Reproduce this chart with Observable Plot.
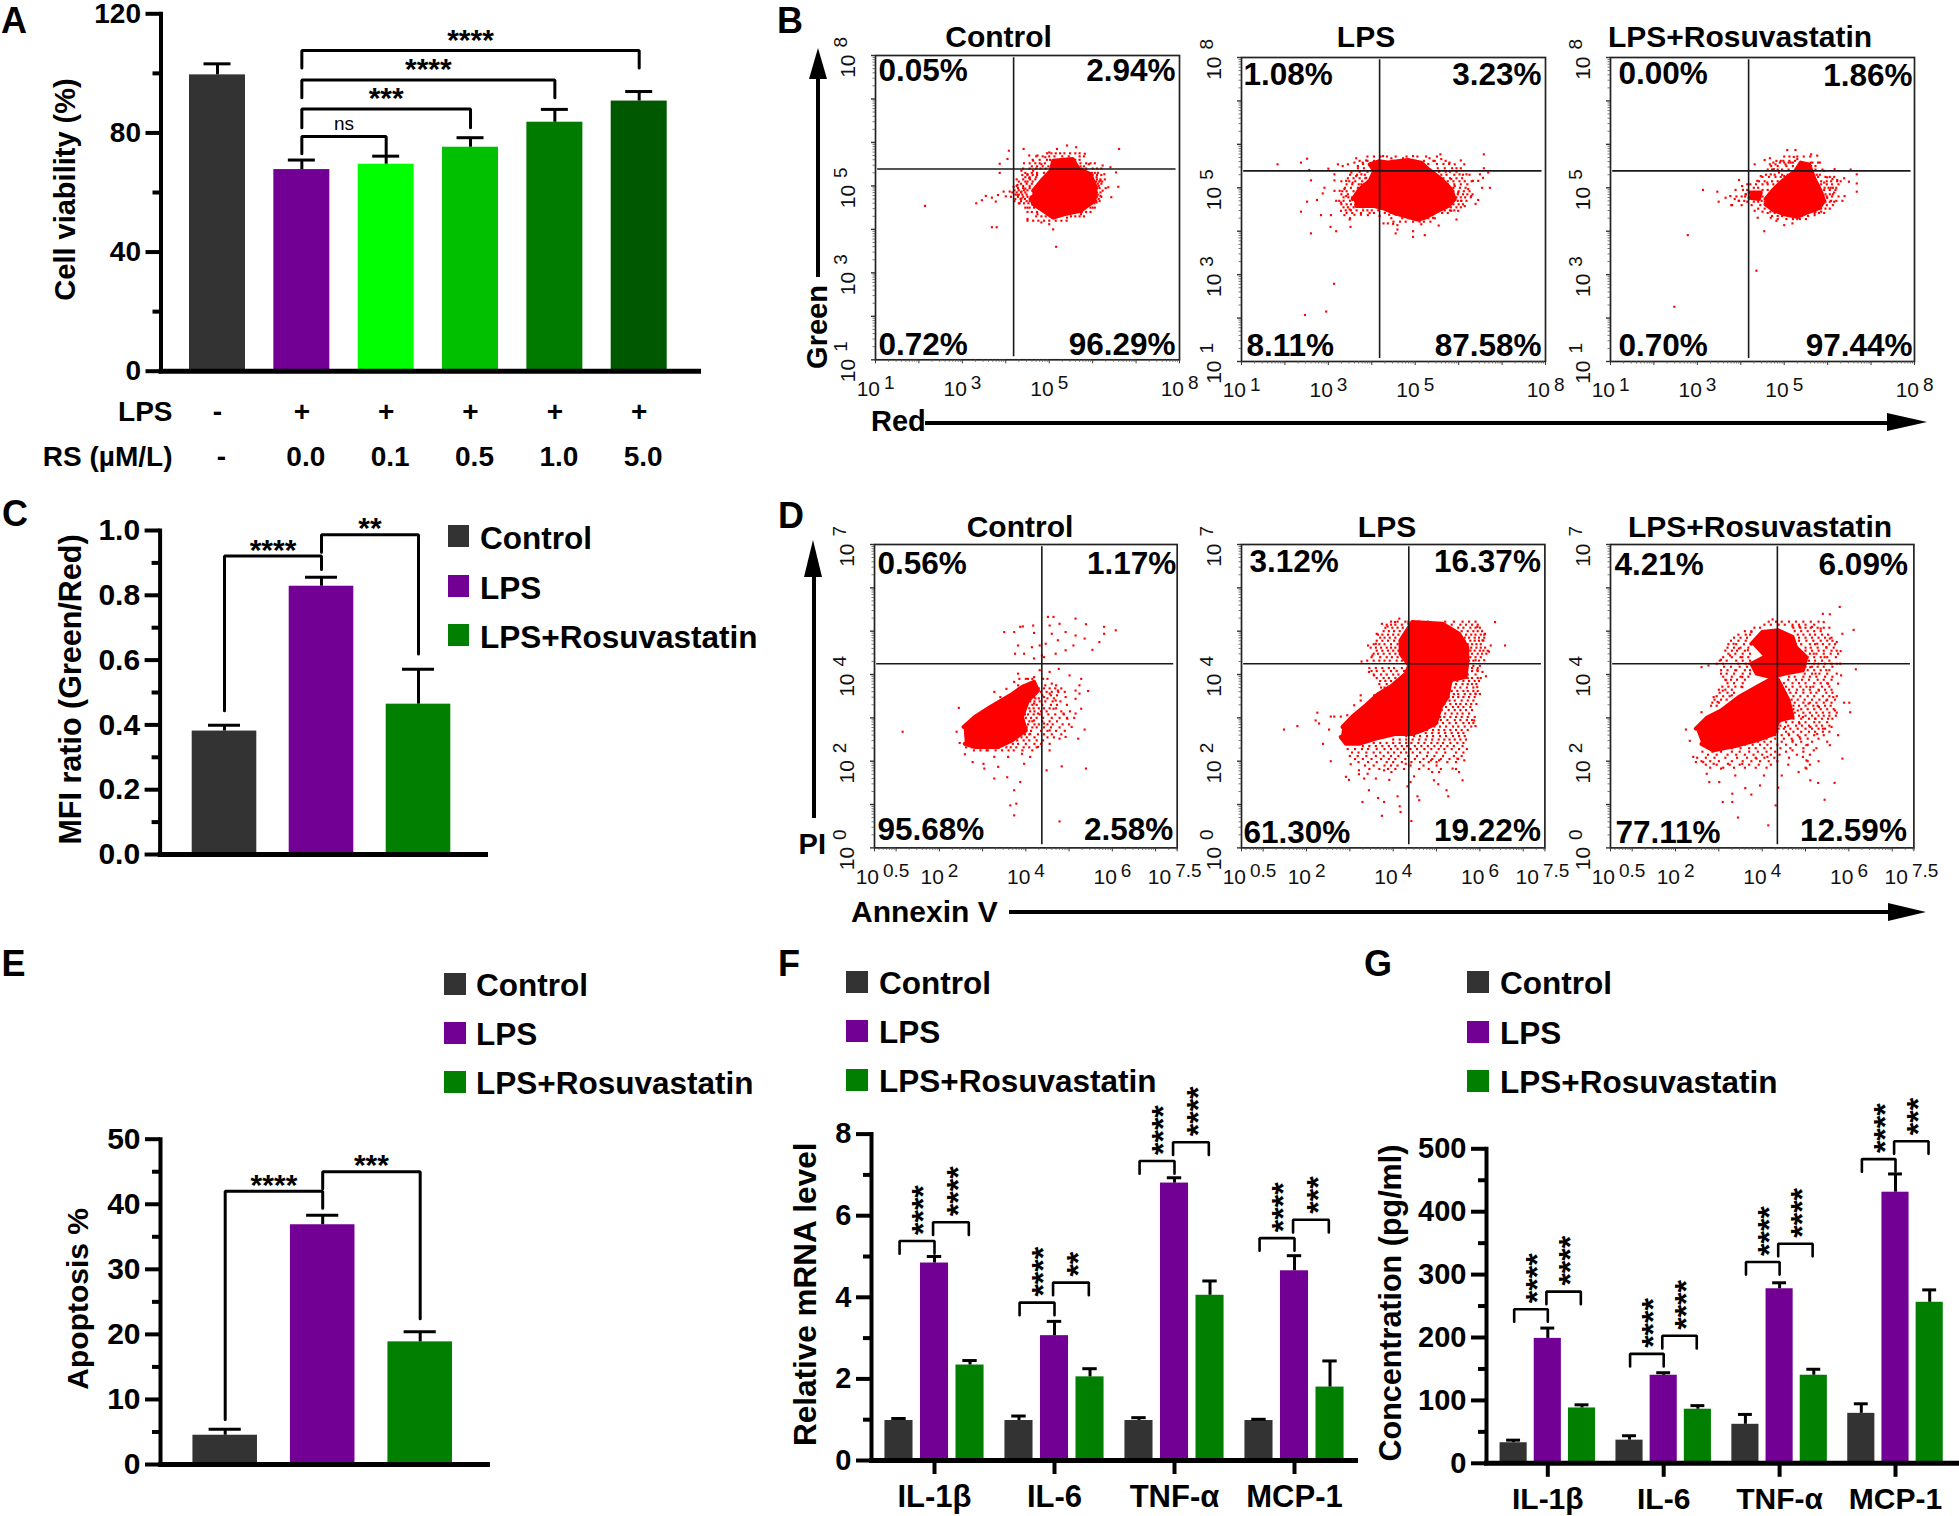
<!DOCTYPE html>
<html><head><meta charset="utf-8">
<script src="https://cdn.jsdelivr.net/npm/d3@7"></script>
<script src="https://cdn.jsdelivr.net/npm/@observablehq/plot@0.6"></script>
<style>
html,body{margin:0;padding:0;background:#fff}
#page{position:relative;width:1959px;height:1516px;overflow:hidden;background:#fff;color:#000;font-family:"Liberation Sans",Arial,sans-serif}
#page>div{position:absolute}
.t{font-weight:700;white-space:nowrap;line-height:1.15}
</style></head><body><div id="page"></div>
<script>
// ---------- bar chart data ----------
const groupColors=["#333333","#730094","#007F00"];
const legendLabels=["Control","LPS","LPS+Rosuvastatin"];
const viabilityValues=[99.5,67.7,69.5,75.2,83.6,90.7];
const viabilityErrTop=[103.2,70.9,72.2,78.4,87.9,93.9];
const viabilityColors=["#333333","#730094","#00FF00","#00C000","#007B00","#005800"];
const lpsRow=["-","+","+","+","+","+"];
const rsRow=["-","0.0","0.1","0.5","1.0","5.0"];
const viabilityBrackets=[[1,2,78.8,73,72.4],[1,3,88,81.7,81.7],[1,4,97.8,91.8,91.8],[1,5,107.7,101.8,101.8]];
const viabilityStars=[[1.5,78.8,"ns"],[2,88,"***"],[2.5,97.8,"****"],[3,107.7,"****"]];
const mfiValues=[0.381,0.828,0.464];
const mfiErrTop=[0.399,0.856,0.572];
const mfiBrackets=[[0,1,0.921,0.444,0.88],[1,2,0.987,0.933,0.619]];
const mfiStars=[[0.5,0.921,"****"],[1.5,0.987,"**"]];
const apoptosisValues=[4.5,36.85,18.85];
const apoptosisErrTop=[5.4,38.3,20.4];
const apoptosisBrackets=[[0,1,42,6.9,39.4],[1,2,45,42.4,22.4]];
const apoptosisStars=[[0.5,42,"****"],[1.5,45,"***"]];
const cytokines=["IL-1β","IL-6","TNF-α","MCP-1"];
const mrnaControl=[0.98,0.98,0.98,0.98];
const mrnaControlErr=[1.03,1.09,1.05,1.01];
const mrnaLps=[4.84,3.06,6.8,4.65];
const mrnaLpsErr=[5.0,3.41,6.93,5.02];
const mrnaRs=[2.34,2.05,4.05,1.8];
const mrnaRsErr=[2.45,2.25,4.4,2.44];
const mrnaLeftTop=[5.38,3.87,7.34,5.45];
const mrnaRightTop=[5.84,4.36,7.8,5.9];
const mrnaRightStars=["****","**","****","***"];
const concControl=[32.7,36.8,62,79.4];
const concControlErr=[36.8,43.8,77.7,94.6];
const concLps=[198.6,140,277.5,431];
const concLpsErr=[215,144,287,460];
const concRs=[88,86,140,256];
const concRsErr=[93,91.7,149.5,275.7];
const concLeftTop=[245,174,320,483.6];
const concRightTop=[273,202.7,349,512];
const concLeftStars=["****","****","****","****"];
const concRightStars=["****","****","****","***"];

// ---------- flow cytometry data: log10 fluorescence ----------
const bTicksX=[[1,"1"],[3,"3"],[5,"5"],[8,"8"]];
const bTicksY=[[1,"1"],[3,"3"],[5,"5"],[8,"8"]];
const dTicksX=[[0.5,"0.5"],[2,"2"],[4,"4"],[6,"6"],[7.5,"7.5"]];
const dTicksY=[[0,"0"],[2,"2"],[4,"4"],[7,"7"]];

const bControlCore=[[4.63,4.89],[4.82,5.12],[5.04,5.35],[5.09,5.58],[5.54,5.62],[5.68,5.39],[5.95,5.27],[6.07,4.97],[6.04,4.66],[5.73,4.43],[5.36,4.35],[5.09,4.27],[4.86,4.43],[4.63,4.58],[4.59,4.74]];
const bControlDots=[[2.14,4.54],[5.16,3.6],[6.61,5.85],[6.59,4.98],[6.43,4.74],[3.32,4.6],[3.45,4.67],[3.54,4.77],[3.68,4.73],[3.77,4.64],[3.82,4.79],[3.95,4.87],[4,4.76],[4.09,4.87],[4.18,4.98],[4.27,5.02],[4.36,4.71],[4.45,4.94],[3.86,5.3],[4.04,5.62],[4.41,5.85],[4.07,5.81],[3.86,5.51],[4.27,4.79],[4.36,4.87],[4.45,5.1],[4.54,5.18],[4.5,4.5],[4.32,4.6],[4.5,4.2],[3.79,4.05],[3.68,4.05],[4.54,5.7],[4.63,5.58],[4.73,5.7],[4.82,5.5],[4.91,5.66],[5,5.77],[5.18,5.85],[5.41,5.93],[5.62,5.89],[5.82,5.74],[5.91,5.5],[6.23,5.47],[6.41,5.43],[6.54,5.31],[6.18,5.12],[6.27,5.27],[6.09,5.2],[6.36,4.97],[6.23,4.89],[6.18,4.77],[6.09,4.62],[6,4.5],[5.73,4.35],[5.59,4.43],[5.41,4.27],[5.09,4],[5,4.12],[4.82,4.16],[4.5,4.24],[4.63,4.2],[4.73,4.35],[4.36,5.35],[4.5,5.27],[4.63,5.35]];
const bControlRows=[[5.6,4.62,4.78,4.95,5.02,5.6,5.7],[5.45,4.6,4.72,4.85,4.98,5.72,5.8],[5.3,4.45,4.6,4.72,4.88,5.98,6.05,6.12],[5.2,4.45,4.55,4.7],[5.1,4.3,4.5,4.62,6.08,6.15,6.22],[5,4.25,4.4,4.55,6.08,6.14],[4.9,4.2,4.3,4.42,4.5],[4.8,4.22,4.3,4.38,4.48,6.07,6.12],[4.7,4.22,4.34,4.44,4.55,6.06,6.14],[4.6,4.3,4.42,4.52,5.98,6.04],
[5.75,4.95,5.05,5.15,5.25,5.35,5.48,5.6,5.7],[5.68,4.7,4.85,5,5.12,5.3,5.45,5.7,5.8],[5.52,4.42,4.55,4.68,4.78,4.9,5.72,5.85,5.95,6.05],[5.4,4.4,4.55,4.7,4.8,4.92,5.75,5.85,6,6.1,6.2],[5.25,4.38,4.5,4.62,4.72,6,6.1,6.2],[5.15,4.25,4.4,4.56,4.68,6.1,6.18,6.28],[5.05,4.35,4.48,4.6,6.12,6.2],[4.95,4.28,4.4,4.55,6.1,6.16,6.3],[4.85,4.15,4.25,4.35,4.45,6.1,6.18],[4.75,4.12,4.28,4.4,4.5,6.1,6.2],[4.65,4.2,4.35,4.48,4.55,6.08,6.16],[4.5,4.45,4.55,4.65,5.95,6.05],[4.4,4.5,4.6,4.72,5.75,5.85,5.95],[4.3,4.7,4.82,4.92,5.5,5.6,5.7,5.8],[4.2,4.75,4.88,5,5.15,5.28,5.4]];

const bLpsCore=[[3.56,4.74],[3.72,4.97],[3.95,5.16],[4.06,5.39],[3.95,5.54],[4.16,5.61],[4.37,5.58],[4.83,5.64],[5.14,5.58],[5.3,5.43],[5.6,5.2],[5.83,4.97],[5.91,4.74],[5.76,4.58],[5.53,4.47],[5.22,4.31],[5.06,4.27],[4.76,4.35],[4.49,4.43],[4.26,4.53],[4.06,4.58],[3.64,4.58]];
const bLpsDots=[[3.13,2.79],[2.46,2.07],[2.95,2.15],[1.83,5.54],[2.37,5.58],[2.51,5.67],[2.56,5.41],[3,5.44],[2.6,5.17],[3.14,5.17],[2.91,5],[2.87,4.87],[2.74,4.72],[2.51,4.68],[2.37,4.45],[2.83,4.37],[3.06,4.37],[2.6,3.95],[3.05,4.1],[3.18,4],[3.51,4.1],[3.14,4.93],[3.26,4.93],[3.37,4.97],[3.18,4.7],[3.29,4.66],[3.41,4.81],[3.29,4.47],[3.49,4.5],[3.37,4.37],[3.49,4.27],[3.91,4.37],[4.18,4.35],[4.27,4.18],[4.37,4.18],[4.49,4.17],[4.59,4.14],[4.59,4.04],[4.55,3.95],[4.95,4],[4.95,3.87],[5.22,3.91],[5.54,4.13],[5.95,4.27],[5.14,4.16],[5.41,4.31],[4.99,4.27],[3.64,5.68],[3.87,5.63],[4.26,5.73],[4.45,5.68],[4.72,5.68],[4.95,5.73],[5.33,5.68],[5.58,5.77],[6.58,5.77],[6.05,5.63],[6.13,5.54],[6.58,5.45],[6.68,5.35],[6.72,5],[6.54,5],[6.45,4.72],[6.39,4.63],[6.29,4.81],[6.22,4.97],[6.33,5.16],[6.45,5.16],[6.49,5.31],[6.56,5.23],[5.99,4.47],[5.83,4.47],[6.14,4.58],[6.06,4.7],[5.99,4.89],[5.91,5.04],[5.83,5.2],[6.02,5.31],[6.18,5.31],[5.79,5.58],[5.91,5.54],[5.6,5.66],[5.45,5.62],[3.22,5.54],[3.33,5.5],[3.45,5.54],[3.6,5.58],[3.68,5.5],[3.79,5.58],[3.53,5.35],[3.64,5.27],[3.76,5.31],[3.87,5.23],[3.41,5.16],[3.56,5.12],[3.14,5.31],[3.76,5.08]];
const bLpsRows=[[5.62,3.72,3.9,4.05,4.5,4.6,5,5.2,5.42,5.7],[5.45,3.68,3.82,5.52,5.68,5.85,5.95,6.05],[5.3,3.5,3.66,3.84,5.6,5.72,5.9,6.1,6.25],[5.15,3.3,3.48,3.62,3.78,5.75,5.88,6.02,6.14,6.3],[5,3.38,3.52,3.68,5.88,6.03,6.16],[4.85,3.3,3.45,5.98,6.1,6.2,6.32],[4.7,3.25,3.35,3.5,5.98,6.06,6.18],[4.55,3.35,3.45,3.58,3.8,5.82,5.95,6.05],[4.42,3.42,3.55,3.75,3.95,4.05,4.3,4.45,4.62,5.62,5.75],[4.3,3.5,4.45,4.7,4.85,5.05,5.3,5.45],
[5.72,3.9,4.05,4.2,4.35,4.55,4.8,5.05,5.25,5.5],[5.55,3.8,5.2,5.3,5.5,5.65,5.78],[5.37,3.72,3.9,5.42,5.55,5.7,5.8,5.95],[5.22,3.45,3.58,3.72,3.85,5.65,5.8,5.95,6.08],[5.08,3.42,3.55,3.7,3.82,5.75,5.9,6.05,6.2],[4.92,3.32,3.42,3.58,3.68,5.88,6,6.12,6.25],[4.78,3.35,3.46,3.55,5.95,6.05,6.15,6.28],[4.62,3.3,3.42,3.52,3.62,3.75,5.88,6,6.1],[4.48,3.4,3.52,3.65,3.8,3.9,4,4.15,4.35,5.55,5.68,5.8,5.9],[4.38,3.6,3.75,4.4,4.55,4.75,4.92,5.1,5.25,5.4],[4.22,4.5,4.65,4.78,4.95,5.1,5.2,5.35]];

const bRsCore=[[4.57,4.74],[4.76,4.97],[4.96,5.16],[5.26,5.39],[5.38,5.58],[5.57,5.54],[5.7,5.2],[5.84,4.93],[5.92,4.7],[5.8,4.53],[5.53,4.43],[5.3,4.33],[5,4.39],[4.76,4.48],[4.57,4.62]];
const bRsCore2=[[4.2,4.89],[4.46,4.89],[4.42,4.74],[4.2,4.77]];
const bRsDots=[[2.47,2.26],[4.36,3.09],[2.78,3.91],[3.13,4.95],[3.46,4.91],[3.49,4.68],[3.65,4.77],[3.76,4.81],[3.78,4.6],[3.86,4.74],[3.96,4.7],[3.88,4.95],[3.96,5.18],[4.03,5.04],[4.11,4.85],[4.15,5.08],[4.22,5.08],[4.32,5.54],[4.55,5.64],[4.67,5.68],[4.67,5.54],[4.8,5.54],[5.07,5.87],[5.26,5.87],[5.22,5.71],[5.3,5.66],[5.62,5.77],[5.76,5.74],[5.82,5.58],[5.61,5.58],[5.92,5.39],[6.16,5.43],[6.53,5.42],[6.67,5.31],[6.67,5.1],[6.67,4.91],[6.38,5.22],[6.49,5.14],[6.39,4.81],[6.34,4.7],[6.22,5.18],[6.11,5.2],[5.99,5.24],[5.92,5.12],[6.07,5],[6.15,4.89],[5.99,4.77],[5.92,4.66],[5.7,4.37],[5.36,4.28],[5.22,4.35],[5.19,4.18],[5,4.14],[4.82,4.24],[4.69,4.31],[4.39,4.31],[4.32,4.47],[4.54,4],[4.38,5.16],[4.46,5.27],[4.61,5.12],[4.69,5.31],[4.88,5.35],[5,5.27],[4.92,5.62],[5.03,5.54],[5.15,5.58],[4.76,5.43]];
const bRsRows=[[5.62,4.82,4.98,5.12,5.25],[5.5,4.7,4.85,5.05,5.2,5.62,5.72],[5.3,4.58,4.78,4.95,5.08,5.75,5.82],[5.15,4.42,4.55,4.72,4.85,5.72,5.85,5.98,6.08,6.22,6.3],[5,4.3,4.4,5.93,6.02,6.12,6.2],[4.85,4.12,5.95,6.05,6.12],[4.7,3.95,4.08,4.48,5.93,6.08,6.2],[4.6,3.8,4.02,4.25,4.45,5.85,5.98,6.12],[4.45,4.5,4.68,5.72,5.85],[4.35,4.72,4.85,4.95,5.4,5.55],
[5.72,5,5.12,5.3,5.45,5.6],[5.58,4.75,4.9,5,5.1,5.2,5.65,5.78],[5.42,4.62,4.72,4.85,4.95,5.1,5.62,5.72,5.88],[5.25,4.5,4.65,4.8,4.92,5.65,5.78,5.95,6.05,6.15],[5.08,4.35,4.5,4.62,4.75,5.85,5.98,6.1,6.25],[4.95,4.05,4.15,4.5,4.62,5.92,6.05,6.18],[4.8,3.9,4.02,4.1,4.5,5.98,6.1,6.25],[4.68,4.15,4.3,4.4,4.55,5.95,6.05,6.15],[4.52,4.4,4.55,5.85,5.95,6.05],[4.42,4.62,4.78,5.7,5.8,5.92],[4.28,4.85,5.05,5.2,5.3,5.5]];

const dControlCore=[[2.56,2.79],[2.82,3.02],[3.18,3.25],[3.64,3.52],[3.91,3.71],[4.19,3.83],[4.28,3.63],[4.05,3.4],[3.91,3.02],[4,2.71],[3.68,2.48],[3.36,2.33],[2.82,2.33],[2.59,2.4]];
const dControlDots=[[1.15,2.68],[2.4,2.68],[2.45,3.23],[2.47,2.42],[2.59,2.16],[2.77,1.98],[3.02,1.94],[3.04,1.83],[3.27,1.6],[3.36,1.87],[3.57,1.63],[3.73,1.33],[3.87,1.52],[3.64,0.98],[3.78,1.02],[3.73,0.75],[4.78,0.61],[4.48,1.79],[4.83,1.88],[5.39,1.83],[3.96,1.94],[4.1,2.1],[3.91,2.17],[3.59,2.1],[3.27,2.1],[3.09,2.25],[4.55,2.25],[4.78,2.52],[4.92,2.56],[5.21,2.52],[5.36,2.73],[5.06,2.79],[4.96,2.98],[5.15,3.1],[5.28,3.21],[4.87,3.1],[4.64,3.21],[4.55,2.71],[4.42,2.87],[4.28,3.1],[4.19,2.94],[4.1,2.63],[3.82,2.63],[4.28,2.33],[4.69,3.4],[4.92,3.48],[5.15,3.44],[5.24,3.56],[5.44,3.62],[5.24,3.75],[5.28,3.9],[5.01,3.98],[5.15,3.63],[4.74,3.63],[4.55,3.56],[4.42,3.48],[4.19,3.33],[4.19,3.48],[4.6,3.79],[4.55,4.06],[4.76,4.13],[4.32,4.1],[4.19,3.94],[4,3.9],[3.82,4.02],[3.73,3.83],[3.55,3.67],[3.27,3.6],[3.41,3.48],[3.5,4.98],[3.73,4.98],[3.87,5.1],[3.93,5.11],[4.17,5.13],[4.19,4.96],[3.82,4.67],[4.14,4.63],[4.32,4.67],[3.75,4.48],[3.96,4.48],[4.19,4.37],[4.37,4.44],[4.46,4.71],[4.51,5.33],[4.64,5.33],[4.55,5.13],[4.78,5.17],[4.6,4.94],[4.92,4.98],[4.74,4.79],[5.1,4.67],[5.15,4.9],[5.15,5.29],[5.39,5.16],[5.36,4.83],[5.54,4.57],[5.7,4.75],[5.81,5.1],[5.81,4.94],[6.08,5.02],[4.92,4.56],[4.69,4.48],[4.42,4.4]];
const dControlRows=[[3.75,3.82,3.95,4.1,4.45,4.7],[3.6,3.95,4.08,4.22,4.35,4.48,4.6,4.75,4.9],[3.45,4.05,4.22,4.3,4.5,4.65],[3.3,4.02,4.15,4.25,4.38,4.58,4.72,4.95],[3.15,3.98,4.1,4.2,4.35,4.48,4.82,5.02],[3,4,4.12,4.25,4.4,4.6,4.78,4.95,5.12],[2.85,4.05,4.2,4.3,4.5,4.62,4.85,5],[2.7,3.98,4.12,4.35,4.5,4.7,4.9],[2.55,3.75,3.9,4.02,4.2,4.5,4.65],[2.4,3.52,3.7,3.82,4,4.2,4.35,4.55],[2.25,2.8,2.95,3.12,3.3,3.45,3.6,3.72,3.92,4.15],
[3.9,3.85,4.05,4.15,4.4,4.5],[3.68,3.85,4.02,4.15,4.3,4.42,4.55,4.68,4.82],[3.52,3.95,4.15,4.38,4.58,4.72],[3.38,4.1,4.2,4.32,4.45,4.62,4.8],[3.22,4.08,4.18,4.3,4.42,4.55,4.7],[3.08,3.98,4.05,4.18,4.32,4.52,4.68,4.88],[2.92,3.95,4.08,4.15,4.38,4.55,4.72],[2.78,3.9,4.02,4.15,4.25,4.42,4.58,4.78],[2.62,3.85,3.98,4.08,4.28,4.42,4.6,4.82],[2.48,3.68,3.8,3.95,4.08,4.25,4.4],[2.32,2.62,2.75,2.9,3.05,3.2,3.38,3.55,3.65,3.78,3.95,4.08,4.25]];

const dLpsCore=[[2.83,2.79],[3.06,3.03],[3.37,3.29],[3.67,3.56],[3.98,3.75],[4.29,4.02],[4.37,4.21],[4.17,4.48],[4.17,4.79],[4.44,5.21],[5.14,5.17],[5.52,4.94],[5.71,4.63],[5.71,4.29],[5.67,3.94],[5.33,3.87],[5.25,3.48],[5.1,3.25],[4.98,2.87],[4.67,2.71],[4.44,2.63],[4.06,2.63],[3.6,2.52],[3.21,2.4],[2.91,2.4],[2.79,2.56]];
const dLpsDots=[[1.48,2.73],[1.79,2.81],[2.25,3.12],[2.21,2.94],[2.29,2.87],[2.38,2.4],[2.52,2.73],[2.56,3.03],[2.64,3.03],[2.79,3.03],[2.56,2],[2.94,3.06],[3.1,3.29],[3.25,3.52],[3.25,3.4],[3.56,3.52],[2.91,1.64],[2.98,1.57],[3.27,4.3],[3.42,4.67],[3.52,4.44],[3.6,4.71],[3.62,4.94],[3.74,5.17],[3.87,5.11],[4.04,5.21],[4.14,5.29],[4.35,5.17],[3.44,4.06],[3.56,3.98],[6.35,5.21],[6.58,4.67],[6.25,4.67],[6.21,4.53],[6.12,4.94],[5.94,5.1],[6.06,4.79],[6.1,4.33],[5.9,4.33],[5.94,4.1],[6.06,4.06],[6.14,3.96],[5.94,3.71],[5.9,3.56],[5.87,2.94],[5.9,2.81],[3.02,1.93],[3.21,1.79],[3.21,1.7],[3.41,1.71],[3.33,1.6],[3.6,1.6],[3.79,1.79],[3.96,1.75],[3.91,1.57],[4.29,1.94],[4.48,1.65],[4.4,1.52],[4.33,1.42],[4.87,2.02],[5.06,2.02],[4.9,1.75],[5.06,1.75],[5.37,1.83],[5.52,1.75],[5.48,2.06],[5.64,2.02],[5.6,1.56],[4.94,1.56],[5.04,1.47],[5.23,1.33],[5.27,1.19],[3.44,1.33],[4.1,1.19],[3.65,1.15],[3.79,1.06],[3.29,1.06],[4.15,0.96],[4.17,0.83],[3.74,0.74],[4.56,1.19],[4.6,1.1],[4.42,0.62],[5.17,0.62]];
const dLpsRows=[[5.15,3.85,3.95,4.05,4.2],[5,3.78,3.9,4.02,4.15,4.3],[4.85,3.7,3.8,3.92,4.05,4.2],[4.7,3.55,3.68,3.8,3.95,4.1],[4.55,3.62,3.75,3.88,4,4.12],[4.4,3.5,3.7,3.85,3.97,4.1,4.22],[4.15,3.45,3.6,3.75,3.9,4.02,4.2],[4,3.55,3.72,3.85,4,4.12],[3.85,3.7,3.82,3.95],[3.7,3.72,3.8],[5.15,5.2,5.35,5.55,5.68,5.82,5.95],[5,5.58,5.72,5.85,5.95,6.05],[4.85,5.65,5.75,5.88,5.98,6.1],[4.7,5.72,5.82,5.92,6.02],[4.55,5.78,5.88,6,6.08,6.18],[4.4,5.78,5.9,6.02],[4.15,5.25,5.38,5.55,5.68,5.82,5.95],[4,5.2,5.4,5.58,5.72,5.9],[3.85,5.35,5.48,5.62,5.75,5.88,5.98],[3.7,5.3,5.42,5.55,5.7,5.85],[3.55,5.28,5.4,5.5,5.65,5.78,5.9,6],[3.4,5.15,5.3,5.42,5.58,5.72,5.85],[3.25,5.1,5.22,5.38,5.5,5.62,5.78],[3.1,5.05,5.2,5.35,5.48,5.6,5.75],[2.95,5,5.1,5.25,5.42,5.55,5.7,5.82],[2.8,4.95,5.08,5.22,5.38,5.5,5.65,5.8],[2.65,4.75,4.9,5.05,5.2,5.35,5.5,5.62],[2.5,4,4.15,4.3,4.45,4.6,4.75,4.9,5.05,5.18,5.3,5.42,5.55,5.68],[2.35,3.3,3.45,3.6,3.75,3.9,4.05,4.2,4.32,4.5,4.65,4.8,4.95,5.1,5.25,5.4,5.6],[2.2,3.05,3.2,3.38,3.55,3.7,3.88,4.02,4.18,4.3,4.45,4.62,4.8,5,5.2,5.45,5.62],[2.05,3.12,3.3,3.5,3.72,3.9,4.05,4.28,4.5,4.7,4.9,5.1,5.3,5.5],[1.9,3.35,3.55,3.8,3.95,4.1,4.4,4.7,5],
[5.22,3.95,4.1,4.28,4.35],[5.08,3.82,3.98,4.1,4.22,4.35],[4.92,3.65,3.75,3.88,4,4.12,4.25],[4.78,3.62,3.75,3.88,4.02,4.15],[4.62,3.48,3.6,3.72,3.85,3.95,4.05],[4.48,3.55,3.65,3.78,3.92,4.05],[4.32,3.4,3.55,3.68,3.8,3.92,4.08,4.2],[4.08,3.5,3.62,3.78,3.95,4.08,4.25],[3.92,3.62,3.78,3.9,4.05],[3.78,3.68,3.85],
[5.22,4.6,4.8,5.2,5.4,5.6,5.75,5.9],[5.08,5.5,5.62,5.78,5.9,6],[4.92,5.55,5.68,5.8,5.9,6.02,6.1],[4.78,5.65,5.78,5.88,5.98,6.08],[4.62,5.72,5.8,5.92,6.02,6.12],[4.48,5.72,5.82,5.95,6.05,6.15],[4.32,5.75,5.85,5.98],
[4.2,5.72,5.85,6],[4.08,5.7,5.82,5.95],[3.92,5.72,5.82,5.95,6.02],[3.78,5.32,5.45,5.6,5.72,5.82,5.92],[3.62,5.25,5.35,5.48,5.62,5.72,5.85,5.95],[3.48,5.28,5.38,5.5,5.62,5.75,5.88],[3.32,5.18,5.32,5.45,5.55,5.68,5.8,5.92],[3.18,5.12,5.28,5.42,5.55,5.68,5.82],[3.02,5.08,5.18,5.32,5.45,5.58,5.72,5.88],[2.88,5.02,5.15,5.3,5.45,5.62,5.75,5.85],[2.72,4.78,4.92,5.05,5.18,5.32,5.45,5.58,5.72],[2.58,4.3,4.48,4.62,4.78,4.92,5.08,5.22,5.38,5.52,5.65],
[2.42,3.55,3.7,3.85,4,4.15,4.3,4.42,4.58,4.72,4.88,5.02,5.15,5.32,5.48,5.62],[2.28,2.95,3.12,3.28,3.42,3.62,3.8,3.95,4.1,4.25,4.4,4.55,4.72,4.88,5.05,5.18,5.35,5.52,5.7],[2.12,3,3.18,3.38,3.6,3.78,3.95,4.12,4.35,4.55,4.78,4.95,5.15,5.4,5.58],[1.98,3.2,3.42,3.62,3.85,4,4.2,4.42,4.62,4.82,5,5.25,5.45],[1.82,3.45,3.68,3.88,4.05,4.25,4.6,4.82,5.1,5.45]];

const dRsCore=[[2.47,2.75],[2.72,3],[3.05,3.17],[3.46,3.48],[3.87,3.71],[4.28,3.94],[4.37,3.87],[4.61,3.4],[4.7,3.02],[4.37,2.94],[4.28,2.63],[3.87,2.48],[3.46,2.37],[2.88,2.25],[2.6,2.4]];
const dRsCore2=[[3.75,4.71],[4,4.98],[4.37,5.02],[4.7,4.87],[4.78,4.63],[5.02,4.4],[4.94,4.1],[4.53,4.02],[4.2,3.94],[3.87,4.02],[3.75,4.25],[4.04,4.4]];
const dRsDots=[[2.24,2.73],[2.33,2.47],[2.41,2.1],[2.47,1.98],[2.64,1.98],[2.72,1.71],[2.78,1.52],[3.01,1.52],[3.09,1.06],[3.31,1.06],[3.31,1.25],[3.44,0.7],[3.61,1.38],[3.75,1.23],[3.95,1.44],[4.14,0.52],[4.31,0.98],[4.37,1.39],[4.45,1.67],[4.84,1.75],[5.11,1.56],[5.29,1.5],[5.44,1.11],[5.67,1.5],[5.85,2.06],[5.56,2.37],[5.75,2.6],[5.6,2.79],[5.02,1.83],[4.94,2.1],[4.7,2.25],[4.12,2.1],[3.87,2.06],[3.54,1.94],[3.21,1.94],[3.05,1.83],[2.88,1.94],[3.38,1.67],[4.04,1.67],[2.6,4.17],[2.76,4.21],[3.05,4.34],[3.26,4.44],[3.34,4.71],[3.75,4.98],[4.24,5.27],[3.05,4.02],[3.17,3.87],[3.09,3.63],[3.38,4.1],[3.54,3.94],[2.88,3.48],[2.97,3.37],[2.6,3.13],[3.3,3.52],[3.54,3.71],[3.67,4.56],[3.46,4.6],[3.54,4.4],[3.87,4.17],[4.7,5.11],[4.86,5.1],[5.15,5.1],[5.4,5.4],[5.56,5.39],[5.42,5.21],[5.35,5.06],[5.79,5.56],[6.11,5.03],[5.85,4.94],[5.56,4.83],[5.72,4.75],[5.81,4.54],[5.48,4.63],[5.27,4.71],[5.19,4.48],[5.44,4.4],[5.72,4.25],[6.16,4.12],[5.82,3.98],[5.48,4.1],[5.23,4.02],[5.11,4.17],[5.75,3.79],[5.52,3.79],[5.31,3.63],[5.11,3.71],[5.64,3.48],[5.48,3.4],[5.68,3.17],[5.31,3.25],[5.07,3.33],[5.89,3.35],[6.01,3.35],[6.03,3.13],[4.82,3.17],[4.94,3.02],[5.23,2.98],[5.4,2.75],[5.11,2.79],[4.86,2.87],[5.27,2.63],[4.86,2.56],[5.02,2.37],[4.61,2.63],[4.53,2.79],[4.7,2.48],[5.19,2.25],[5.02,2.02]];
const dRsRows=[[5.15,4.05,4.2,4.38,4.52,4.7,4.85,5,5.2],[5,3.6,3.75,4.75,4.9,5.05,5.2,5.35],[4.85,3.35,3.5,3.65,4.85,5,5.15,5.3,5.45,5.6],[4.7,3.22,3.4,3.58,4.9,5.1,5.22,5.4,5.55,5.68],[4.55,3.15,3.3,3.42,3.6,5,5.15,5.3,5.42,5.6,5.72],[4.4,3.1,3.3,3.5,3.68,5.05,5.2,5.35,5.5,5.7],[4.25,2.95,3.1,3.45,3.62,3.7,5,5.2,5.3,5.45,5.6,5.8],[4.1,3.05,3.2,3.4,3.6,3.72,4.9,5.05,5.2,5.35,5.55],[3.95,3.1,3.3,3.5,3.68,4.62,4.75,4.95,5.1,5.25,5.45,5.62],[3.8,3.2,3.35,3.55,4.5,4.7,4.85,5,5.2,5.35,5.5],[3.65,3,3.15,3.3,4.62,4.8,4.95,5.1,5.3,5.45,5.6],[3.5,2.95,3.1,3.25,4.72,4.88,5.05,5.2,5.4,5.55,5.72],[3.35,2.85,3,4.75,4.95,5.1,5.25,5.42,5.6],[3.2,4.72,4.9,5.05,5.2,5.35,5.5,5.65],[3.05,4.7,4.85,5,5.15,5.3,5.42,5.55,5.7],[2.9,4.4,4.55,4.7,4.85,5,5.2,5.32,5.5],[2.75,4.38,4.5,4.65,4.82,5,5.15,5.3,5.45],[2.6,4.3,4.45,4.62,4.82,5,5.2,5.42],[2.45,3.9,4.05,4.2,4.45,4.7,4.9,5.15,5.5],[2.3,3.3,3.5,3.7,3.85,4.05,4.2,4.42,4.65,4.95,5.25],[2.15,2.75,2.95,3.2,3.4,3.6,3.8,4,4.2,4.4,4.8,5.1],[2,2.6,2.8,3,3.3,3.55,3.75,3.95,4.15,4.35,5.05,5.3],[1.85,2.8,3.1,3.35,3.6,3.85,4.1,5],
[5.22,4.15,4.32,4.45,4.62,4.78,4.95,5.12,5.3],[5.08,3.82,3.95,4.72,4.88,5,5.12,5.28,5.42,5.55],[4.92,3.45,3.62,3.72,4.82,4.95,5.1,5.22,5.38,5.52],[4.78,3.28,3.45,3.62,4.85,5.02,5.18,5.35,5.5,5.62],[4.62,3.2,3.35,3.5,3.68,5,5.12,5.28,5.48,5.65],[4.48,3.22,3.38,3.55,3.72,5.1,5.25,5.42,5.58,5.75],[4.32,3.02,3.18,3.4,3.55,3.72,5.08,5.22,5.38,5.55],[4.18,3.12,3.28,3.48,3.65,5,5.15,5.28,5.42,5.62],[4.02,3.18,3.35,3.55,3.72,4.98,5.15,5.32,5.5,5.72],[3.88,3.15,3.28,3.42,3.6,4.6,4.78,4.92,5.08,5.28,5.42,5.6],[3.72,3.08,3.22,3.38,3.52,4.55,4.7,4.88,5.02,5.18,5.38,5.55],[3.58,3.02,3.2,3.35,4.65,4.78,4.95,5.12,5.25,5.48,5.62],[3.42,2.9,3.05,3.18,4.68,4.82,4.98,5.15,5.32,5.5,5.68],[3.28,2.82,2.95,4.72,4.85,5,5.18,5.28,5.45,5.58],[3.12,4.75,4.95,5.1,5.25,5.4,5.55,5.72],[2.98,4.72,4.9,5.08,5.22,5.38,5.52,5.62],[2.82,4.42,4.6,4.78,4.92,5.08,5.25,5.38,5.55],[2.68,4.35,4.55,4.72,4.9,5.08,5.22,5.4,5.55],[2.52,4.1,4.3,4.5,4.68,4.88,5.05,5.3],[2.38,3.6,3.78,3.95,4.12,4.35,4.55,4.78,5.05],[2.22,2.62,2.85,3.05,3.3,3.48,3.7,3.9,4.1,4.3,4.55,4.95],[2.08,2.5,2.7,2.9,3.15,3.42,3.65,3.85,4.05,4.28,4.62],[1.92,2.7,2.95,3.25,3.48,3.7,3.92,4.2,4.6,5.1]];

// ---------- page helpers ----------
const page=document.getElementById("page");
function put(node,left,top,width,height){
  const d=document.createElement("div");
  d.style.cssText=`left:${left}px;top:${top}px;width:${width}px;height:${height}px`;
  d.append(node);page.append(d);return d;
}
function label(s,x,cy,size,opts={}){
  const d=document.createElement("div");
  d.className="t";d.textContent=s;
  const tx=opts.anchor==="middle"?"-50%":"0";
  const rot=opts.rotate?` rotate(${opts.rotate}deg)`:"";
  d.style.cssText=`left:${x}px;top:${cy}px;font-size:${size}px;transform:translate(${tx},-50%)${rot}`;
  page.append(d);
}
function legend(swX,swW,textX,centers,size,shift){
  legendLabels.forEach((s,i)=>{
    const sw=document.createElement("div");
    sw.style.cssText=`left:${swX}px;top:${centers[i]-11}px;width:${swW}px;height:22px;background:${groupColors[i]}`;
    page.append(sw);
    label(s,textX,centers[i]+shift,size);
  });
}
function arrowUp(x,tip,base,end){
  const h=document.createElement("div");
  h.style.cssText=`left:${x-9.5}px;top:${tip}px;width:0;height:0;border-left:9.5px solid transparent;border-right:9.5px solid transparent;border-bottom:${base-tip}px solid #000`;
  const s=document.createElement("div");
  s.style.cssText=`left:${x-2}px;top:${base}px;width:4px;height:${end-base}px;background:#000`;
  page.append(h,s);
}
function arrowRight(y,start,base,tip){
  const s=document.createElement("div");
  s.style.cssText=`left:${start}px;top:${y-2}px;width:${base-start}px;height:4px;background:#000`;
  const h=document.createElement("div");
  h.style.cssText=`left:${base}px;top:${y-9.5}px;width:0;height:0;border-top:9.5px solid transparent;border-bottom:9.5px solid transparent;border-left:${tip-base}px solid #000`;
  page.append(s,h);
}
const plotStyle={background:"transparent",fontFamily:'"Liberation Sans",Arial,sans-serif',color:"#000",overflow:"visible"};

// ---------- bar panels ----------
function barPanel(p){
  const {left,top,width,height}=p.box;
  const bracketPts=p.brackets.flatMap((b,i)=>[
    {id:i,x:b[0],y:b[3]},{id:i,x:b[0],y:b[2]},{id:i,x:b[1],y:b[2]},{id:i,x:b[1],y:b[4]}]);
  const w=p.tickW||4;
  const marks=[
    Plot.rectY(p.rows,{x1:d=>d.x-p.half,x2:d=>d.x+p.half,y1:0,y2:"v",fill:"fill"}),
    Plot.ruleX(p.rows,{x:"x",y1:"v",y2:"top",stroke:"#000",strokeWidth:3}),
    Plot.ruleY(p.rows,{y:"top",x1:d=>d.x-p.cap,x2:d=>d.x+p.cap,stroke:"#000",strokeWidth:3}),
    Plot.line(bracketPts,{x:"x",y:"y",z:"id",stroke:"#000",strokeWidth:p.bracketW||3,strokeLinejoin:"miter"}),
    Plot.axisY({ticks:p.ticks,tickSize:15,strokeWidth:w,tickPadding:5,fontSize:p.tickFont,fontWeight:"bold",tickFormat:p.fmt,label:null,stroke:"#000",fill:"#000"}),
    Plot.axisY({ticks:p.minor,tickSize:8,strokeWidth:w,tickFormat:()=>"",label:null,stroke:"#000"}),
    Plot.frame({anchor:"left",stroke:"#000",strokeWidth:w}),
    Plot.frame({anchor:"bottom",stroke:"#000",strokeWidth:5}),
    Plot.text([p.label],{text:d=>d,frameAnchor:"left",textAnchor:"middle",lineAnchor:"middle",dx:p.labelX-p.axisX,dy:-3,rotate:-90,fontSize:p.labelFont,fontWeight:"bold",fill:"#000"}),
    ...(p.extra||[])
  ];
  const svg=Plot.plot({
    width,height,
    marginLeft:p.axisX-left,marginRight:left+width-p.axisEnd,
    marginTop:p.yTop-top,marginBottom:top+height-p.y0,
    style:plotStyle,
    x:{type:"linear",domain:[0,p.last],range:[p.c0-left,p.cLast-left],axis:null},
    y:{domain:p.yDomain,axis:null},
    color:{type:"identity"},
    marks
  });
  put(svg,left,top,width,height);
}
function simpleRows(values,tops,colors){
  return values.map((v,i)=>({x:i,v,top:tops[i],fill:colors[i]}));
}
function flatStars(list,dy,size){
  return Plot.text(list,{x:d=>d[0],y:d=>d[1],text:d=>d[2],dy,fontSize:size,fill:"#000",fontWeight:"bold"});
}

// Panel A
const rowText={frameAnchor:"bottom",lineAnchor:"middle",fontSize:28,fontWeight:"bold",fill:"#000"};
barPanel({
  box:{left:0,top:0,width:720,height:490},axisX:160.5,axisEnd:698,yTop:13.3,y0:370.7,
  c0:217,cLast:638.7,last:5,half:0.332,cap:0.16,yDomain:[0,120],
  rows:simpleRows(viabilityValues,viabilityErrTop,viabilityColors),
  brackets:viabilityBrackets,ticks:[0,40,80,120],minor:[20,60,100],tickFont:28,
  fmt:d3.format("d"),label:"Cell viability (%)",labelX:65,labelFont:29,
  extra:[
    flatStars(viabilityStars.filter(d=>d[2]!=="ns"),-10.5,30),
    Plot.text(viabilityStars.filter(d=>d[2]==="ns"),{x:d=>d[0],y:d=>d[1],text:d=>d[2],dy:-13,fontSize:19,fill:"#000"}),
    Plot.text(lpsRow,{...rowText,x:(d,i)=>i,text:d=>d,dy:41}),
    Plot.text(rsRow,{...rowText,x:(d,i)=>i,text:d=>d,dy:86,dx:4}),
    Plot.text(["LPS"],{...rowText,text:d=>d,frameAnchor:"bottom-left",dx:11.5,dy:41,textAnchor:"end"}),
    Plot.text(["RS (µM/L)"],{...rowText,text:d=>d,frameAnchor:"bottom-left",dx:11.5,dy:86,textAnchor:"end"})
  ]
});
// Panel C
barPanel({
  box:{left:0,top:510,width:500,height:370},axisX:159.6,axisEnd:485,yTop:530,y0:854,
  c0:224,cLast:418,last:2,half:0.333,cap:0.165,yDomain:[0,1],
  rows:simpleRows(mfiValues,mfiErrTop,groupColors),
  brackets:mfiBrackets,ticks:[0,0.2,0.4,0.6,0.8,1],minor:[0.1,0.3,0.5,0.7,0.9],tickFont:30,
  fmt:d3.format(".1f"),label:"MFI ratio (Green/Red)",labelX:71,labelFont:30.5,
  extra:[flatStars(mfiStars,-6,30)]
});
// Panel E
barPanel({
  box:{left:0,top:1120,width:500,height:380},axisX:160,axisEnd:487,yTop:1138.7,y0:1464,
  c0:224.7,cLast:419.7,last:2,half:0.331,cap:0.165,yDomain:[0,50],
  rows:simpleRows(apoptosisValues,apoptosisErrTop,groupColors),
  brackets:apoptosisBrackets,ticks:[0,10,20,30,40,50],minor:[5,15,25,35,45],tickFont:30,
  fmt:d3.format("d"),label:"Apoptosis %",labelX:77.6,labelFont:30,
  extra:[flatStars(apoptosisStars,-6,30)]
});
// grouped panels F and G
function groupedPanel(o){
  const rows=[];
  [[o.control,o.controlErr,-1],[o.lps,o.lpsErr,0],[o.rs,o.rsErr,1]].forEach(([vals,errs,s],k)=>{
    vals.forEach((v,i)=>rows.push({x:i+s*o.seriesStep,v,top:errs[i],fill:groupColors[k]}));
  });
  const brackets=[];
  const stars=[];
  o.leftTop.forEach((t,i)=>{
    brackets.push([i-o.seriesStep+0.005,i,t,t-o.drop,t-o.drop]);
    stars.push({x:i+o.starLeft,y:t,s:o.leftStars[i]});
  });
  o.rightTop.forEach((t,i)=>{
    brackets.push([i-0.012,i+o.seriesStep-0.01,t,t-o.drop,t-o.drop]);
    stars.push({x:i+o.starRight,y:t,s:o.rightStars[i]});
  });
  barPanel({
    box:o.box,axisX:o.axisX,axisEnd:o.axisEnd,yTop:o.yTop,y0:o.y0,c0:o.c0,cLast:o.cLast,last:3,
    half:0.117,cap:0.06,yDomain:o.yDomain,rows,brackets,ticks:o.ticks,minor:o.minor,tickFont:29,
    fmt:d3.format("d"),label:o.label,labelX:o.labelX,labelFont:o.labelFont,bracketW:2.6,
    extra:[
      Plot.text(stars,{x:"x",y:"y",text:"s",rotate:-90,textAnchor:"start",dy:-6,fontSize:32,fontWeight:"bold",fill:"#000"}),
      Plot.axisX({ticks:[0,1,2,3],tickFormat:i=>cytokines[i],tickSize:14,strokeWidth:4,tickPadding:10,fontSize:o.xFont,fontWeight:"bold",label:null,stroke:"#000",fill:"#000"})
    ]
  });
}
groupedPanel({
  box:{left:790,top:1100,width:570,height:416},axisX:871,axisEnd:1355,yTop:1133.6,y0:1460,c0:934,cLast:1294,
  seriesStep:0.296,drop:0.31,starLeft:-0.092,starRight:0.2,yDomain:[0,8],xFont:31,
  control:mrnaControl,controlErr:mrnaControlErr,lps:mrnaLps,lpsErr:mrnaLpsErr,rs:mrnaRs,rsErr:mrnaRsErr,
  leftTop:mrnaLeftTop,rightTop:mrnaRightTop,leftStars:concLeftStars,rightStars:mrnaRightStars,
  ticks:[0,2,4,6,8],minor:[1,3,5,7],label:"Relative mRNA level",labelX:805,labelFont:31.5
});
groupedPanel({
  box:{left:1365,top:1100,width:594,height:416},axisX:1486,axisEnd:1958,yTop:1148.3,y0:1462.8,c0:1547.3,cLast:1895,
  seriesStep:0.295,drop:20,starLeft:-0.086,starRight:0.2,yDomain:[0,500],xFont:30,
  control:concControl,controlErr:concControlErr,lps:concLps,lpsErr:concLpsErr,rs:concRs,rsErr:concRsErr,
  leftTop:concLeftTop,rightTop:concRightTop,leftStars:concLeftStars,rightStars:concRightStars,
  ticks:[0,100,200,300,400,500],minor:[50,150,250,350,450],label:"Concentration (pg/ml)",labelX:1391,labelFont:30.5
});

// ---------- flow cytometry panels ----------
function minorExps(lo,hi){
  const out=[];
  for(let k=Math.floor(lo);k<hi;k++)for(const j of [2,3,4,5,6,7,8,9]){const e=k+Math.log10(j);if(e>lo&&e<hi)out.push(e);}
  return out;
}
function expandRows(rows){return rows.flatMap(r=>r.slice(1).map(x=>[x,r[0]]));}
function flowPanel(p){
  const ml=50,mr=26,mt=20,mb=45;
  const [x0,x1]=p.xDomain,[y0,y1]=p.yDomain;
  const dots=[...p.dots,...expandRows(p.rows)];
  const corners=["top-left","top-right","bottom-left","bottom-right"];
  const xT=p.xTicks.map(d=>({e:d[0],s:d[1]}));
  const yT=p.yTicks.map(d=>({e:d[0],s:d[1]}));
  const lastShift=x1===7.5;
  const xMain=xT.filter(d=>!(lastShift&&d.e===7.5));
  const xLast=xT.filter(d=>lastShift&&d.e===7.5);
  const tick={frameAnchor:"bottom",lineAnchor:"middle",fill:"#111"};
  const marks=[
    ...p.cores.map(c=>Plot.line(c,{x:d=>d[0],y:d=>d[1],fill:"#f00",stroke:"#f00",strokeWidth:4,strokeLinejoin:"round"})),
    Plot.dot(dots,{x:d=>d[0],y:d=>d[1],symbol:"square",r:1.2,fill:"#f00"}),
    Plot.ruleX([p.vx],{y1:y0+0.07,y2:y1-0.05,stroke:"#1a1a1a",strokeWidth:1.6}),
    Plot.ruleY([p.hy],{x1:x0+0.05,x2:x1-0.08,stroke:"#1a1a1a",strokeWidth:1.6}),
    Plot.frame({stroke:"#222",strokeWidth:1.7}),
    Plot.axisX({ticks:d3.range(Math.ceil(x0),Math.floor(x1)+1).concat(x0===0.5?[0.5,7.5]:[]),tickSize:4,strokeWidth:1,tickFormat:()=>"",label:null,stroke:"#333"}),
    Plot.axisY({ticks:d3.range(y0,y1+1),tickSize:4,strokeWidth:1.4,tickFormat:()=>"",label:null,stroke:"#333"}),
    Plot.axisX({ticks:minorExps(x0,x1),anchor:"bottom",tickSize:2.5,strokeWidth:0.8,tickFormat:()=>"",label:null,stroke:"#555"}),
    Plot.axisY({ticks:minorExps(y0,y1),tickSize:2.5,strokeWidth:0.8,tickFormat:()=>"",label:null,stroke:"#555"}),
    Plot.text(xMain,{...tick,x:"e",text:()=>"10",dy:29,dx:4.5,textAnchor:"end",fontSize:21}),
    Plot.text(xMain,{...tick,x:"e",text:"s",dy:23,dx:8.5,textAnchor:"start",fontSize:19}),
    Plot.text(xLast,{...tick,x:"e",text:()=>"10",dy:29,dx:-6,textAnchor:"end",fontSize:21}),
    Plot.text(xLast,{...tick,x:"e",text:"s",dy:23,dx:-2,textAnchor:"start",fontSize:19}),
    Plot.text(yT,{y:"e",text:()=>"10",frameAnchor:"left",lineAnchor:"middle",dx:-27,dy:-1,rotate:-90,textAnchor:"end",fontSize:21,fill:"#111"}),
    Plot.text(yT,{y:"e",text:"s",frameAnchor:"left",lineAnchor:"middle",dx:-35,dy:-8,rotate:-90,textAnchor:"start",fontSize:19,fill:"#111"}),
    ...p.pct.map((q,i)=>Plot.text([q[0]],{text:d=>d,frameAnchor:corners[i],dx:q[1],dy:q[2],fontSize:31.5,fontWeight:"bold",fill:"#000",
      textAnchor:i%2?"end":"start",lineAnchor:"middle"}))
  ];
  const width=p.R-p.L+ml+mr,height=p.B-p.T+mt+mb;
  const svg=Plot.plot({
    width,height,marginLeft:ml,marginRight:mr,marginTop:mt,marginBottom:mb,style:plotStyle,
    x:{domain:p.xDomain,axis:null},y:{domain:p.yDomain,axis:null},marks
  });
  put(svg,p.L-ml,p.T-mt,width,height);
  label(p.title,p.titleX,p.titleY,30,{anchor:"middle"});
}
const bCommon={T:55,B:359.3,xDomain:[1,8],yDomain:[1,8],xTicks:bTicksX,yTicks:bTicksY,hy:5.39,vx:4.18,titleY:37};
flowPanel({...bCommon,L:875,R:1179,title:"Control",titleX:998.6,cores:[bControlCore],dots:bControlDots,rows:bControlRows,
  pct:[["0.05%",3,15],["2.94%",-4,15],["0.72%",3,-15],["96.29%",-4,-15]]});
flowPanel({...bCommon,T:56.7,B:360.7,L:1240.5,R:1544.5,title:"LPS",titleX:1366,cores:[bLpsCore],dots:bLpsDots,rows:bLpsRows,
  pct:[["1.08%",2,17],["3.23%",-4,17],["8.11%",5,-16],["87.58%",-4,-16]]});
flowPanel({...bCommon,T:56.7,B:360.7,L:1610,R:1914,title:"LPS+Rosuvastatin",titleX:1740,cores:[bRsCore,bRsCore2],dots:bRsDots,rows:bRsRows,
  pct:[["0.00%",8,16],["1.86%",-2,18],["0.70%",8,-16],["97.44%",-2,-16]]});

const dCommon={T:544.3,B:847.7,xDomain:[0.5,7.5],yDomain:[0,7],xTicks:dTicksX,yTicks:dTicksY,hy:4.25,titleY:527};
flowPanel({...dCommon,L:873.7,R:1176.4,vx:4.37,title:"Control",titleX:1020,cores:[dControlCore],dots:dControlDots,rows:dControlRows,
  pct:[["0.56%",3,19],["1.17%",-1,19],["95.68%",3,-18],["2.58%",-4,-18]]});
flowPanel({...dCommon,L:1241,R:1544.4,vx:4.36,title:"LPS",titleX:1387,cores:[dLpsCore],dots:dLpsDots,rows:dLpsRows,
  pct:[["3.12%",8,17],["16.37%",-4,17],["61.30%",2,-15],["19.22%",-4,-17]]});
flowPanel({...dCommon,L:1610.3,R:1913.7,vx:4.35,title:"LPS+Rosuvastatin",titleX:1760,cores:[dRsCore,dRsCore2],dots:dRsDots,rows:dRsRows,
  pct:[["4.21%",4,20],["6.09%",-6,20],["77.11%",5,-15],["12.59%",-7,-17]]});

// ---------- flow axis captions and arrows ----------
arrowUp(818,48,79,277);
label("Green",817.5,326.5,29,{anchor:"middle",rotate:-90});
label("Red",871,421.6,29);
arrowRight(422.5,925,1887,1927);
arrowUp(813.6,540,577,818);
label("PI",798.6,845,29);
label("Annexin V",851,911.7,30);
arrowRight(912,1009,1888,1926);

// ---------- legends and panel letters ----------
legend(448,21,480,[536,586,635],31.5,2);
legend(444,22,476,[983.5,1033,1082],31.5,1);
legend(846,21.5,879,[981.5,1031,1080],31.5,1);
legend(1467,22,1500,[982,1032,1081],31.5,1);
[["A",1,21],["B",777,21],["C",2,514],["D",778,516],["E",1.5,964],["F",778,964],["G",1364,964]]
  .forEach(([s,x,y])=>label(s,x,y,36));
</script></body></html>
